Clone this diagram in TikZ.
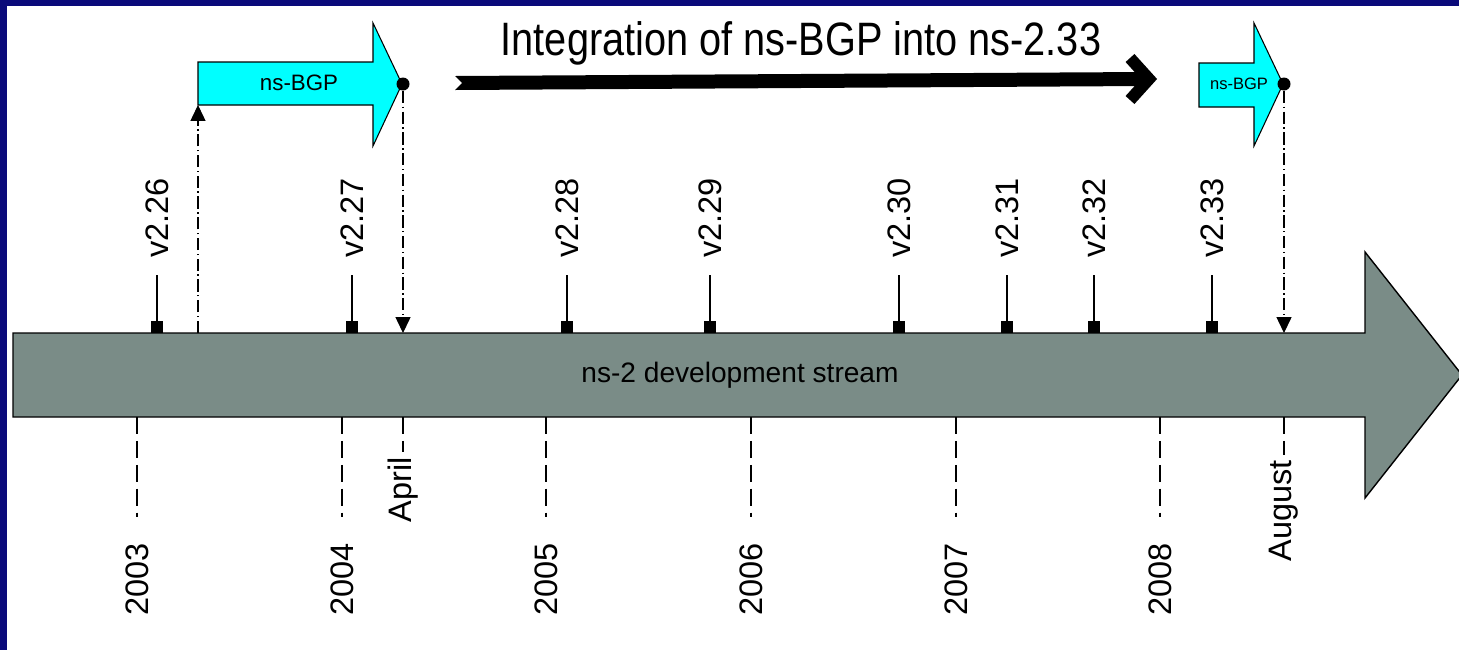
\documentclass[tikz,border=0pt]{standalone}
\usepackage{fontspec}
\setmainfont{Liberation Sans}
\usetikzlibrary{arrows.meta}
\definecolor{slidenavy}{RGB}{10,10,122}
\definecolor{streamgray}{RGB}{122,140,135}
\definecolor{bgpcyan}{RGB}{0,255,255}
\begin{document}
\begin{tikzpicture}[x=0.02cm,y=-0.02cm,
	version/.style={rotate=90,anchor=west,inner sep=0pt,font=\fontsize{18.5}{20}\selectfont},
	datelbl/.style={rotate=90,anchor=east,inner sep=0pt,font=\fontsize{18.5}{20}\selectfont},
	marker/.style={fill=black,inner sep=0pt,minimum size=6.8pt},
	enddot/.style={circle,fill=black,inner sep=0pt,minimum size=7.4pt},
	tick/.style={line width=0.6pt,shorten >=9.6pt},
	yeardash/.style={line width=0.6pt,dash pattern=on 9.6pt off 4pt},
	dashdot/.style={line width=0.6pt,dash pattern=on 7pt off 2pt on 0.8pt off 2pt},
	tri/.style={-{Triangle[length=9pt,width=8.5pt]}}]
	\useasboundingbox (0,0) rectangle (1459,650);
	\fill [slidenavy] (0,0) rectangle (1459,650);
	\fill [white] (7,6) rectangle (1459,650);
	\draw [fill=streamgray,line width=0.8pt] (13,333) -- (1365,333) -- (1365,252) -- (1462,375) -- (1365,498) -- (1365,417) -- (13,417) -- cycle;
	\node (stream) at (740,375) {\fontsize{16}{18}\selectfont ns-2 development stream};
	\foreach \x/\v in {157/26,352/27,567/28,710/29,899/30,1007/31,1094/32,1212/33} {
		\node [marker] (m\v) at (\x,327) {};
		\node [version] (v\v) at (\x,258) {v2.\v};
		\draw [tick] (m\v.north) -- (v\v.west);
	}
	\foreach \x/\yr in {137/2003,342/2004,546/2005,751/2006,956/2007,1160/2008} {
		\coordinate (b\yr) at (\x,417);
		\node [datelbl] (y\yr) at (\x,543) {\yr};
		\draw [yeardash,shorten >=14.7pt] (b\yr) -- (y\yr.east);
	}
	\coordinate (bapr) at (403,417);
	\node [datelbl] (apr) at (403,457) {April};
	\draw [yeardash,shorten >=2.8pt] (bapr) -- (apr.east);
	\coordinate (baug) at (1284,417);
	\node [datelbl] (aug) at (1284,460) {August};
	\draw [yeardash,shorten >=2.8pt] (baug) -- (aug.east);
	\node [anchor=base] (title) at (801,55) {\fontsize{22.6}{25}\selectfont\scalebox{1}[1.18]{Integration of ns-BGP into ns-2.33}};
	\fill (455,76) -- (1145,72) -- (1145,86) -- (455,90) -- (462,83) -- cycle;
	\draw [line width=6.8pt] (1130,58) -- (1149,79) -- (1130,100);
	\draw [fill=bgpcyan,line width=0.6pt] (198,62) -- (373,62) -- (373,23) -- (402,84) -- (373,146) -- (373,105) -- (198,105) -- cycle;
	\node (bgpa) at (299,83) {\fontsize{12.7}{14}\selectfont ns-BGP};
	\node [enddot] (enda) at (403,84) {};
	\coordinate (starta) at (198,333);
	\coordinate (basea) at (198,105);
	\draw [dashdot,tri] (starta) -- (basea);
	\coordinate (topapr) at (403,333);
	\draw [dashdot,tri] (enda) -- (topapr);
	\draw [fill=bgpcyan,line width=0.6pt] (1199,63) -- (1254,63) -- (1254,23) -- (1283,84) -- (1254,146) -- (1254,107) -- (1199,107) -- cycle;
	\node (bgpb) at (1239,84) {\fontsize{9.4}{11}\selectfont ns-BGP};
	\node [enddot] (endb) at (1284,84) {};
	\coordinate (topaug) at (1284,333);
	\draw [dashdot,tri] (endb) -- (topaug);
\end{tikzpicture}
\end{document}
